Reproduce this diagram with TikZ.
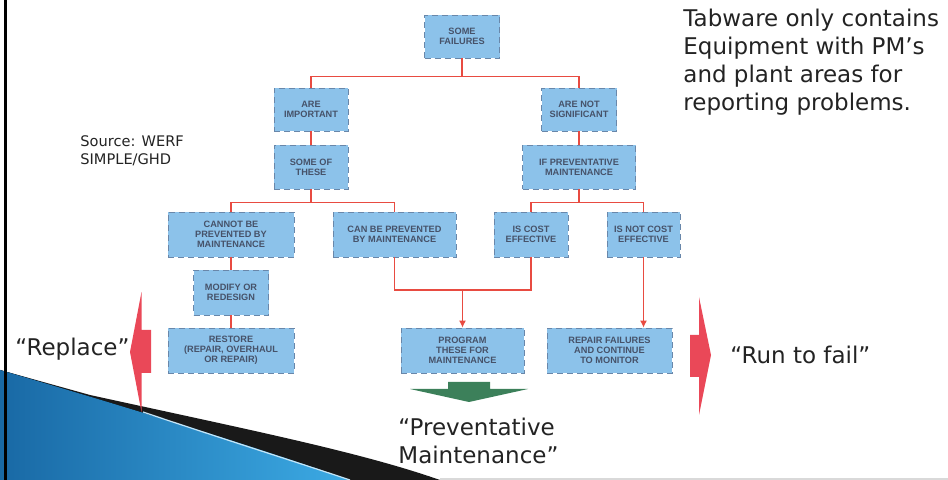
\documentclass[tikz,border=0pt]{standalone}
\usepackage{fontspec}
\setmainfont{DejaVu Sans}
\newfontfamily\boxfont{Liberation Sans}
\usetikzlibrary{arrows.meta}
\definecolor{boxfill}{RGB}{140,194,234}
\definecolor{boxline}{RGB}{105,135,170}
\definecolor{boxtext}{RGB}{70,82,105}
\definecolor{linkred}{RGB}{232,75,65}
\definecolor{arrowred}{RGB}{234,72,88}
\definecolor{arrowgreen}{RGB}{60,128,90}
\definecolor{swooshdark}{RGB}{25,105,165}
\definecolor{swooshlight}{RGB}{60,170,228}
\definecolor{darktext}{RGB}{35,35,35}
\begin{document}
\begin{tikzpicture}[x=0.5pt,y=-0.5pt,
    box/.style={draw=boxline, densely dashed, line width=0.3pt, fill=boxfill, inner sep=0pt,
      minimum height=22.5pt, align=center, text=boxtext, font=\boxfont\bfseries\fontsize{4.6}{5}\selectfont},
    link/.style={draw=linkred, line width=0.7pt},
    tip/.style={-{Latex[length=3.5pt,width=3.5pt]}},
    bigtext/.style={text=darktext, font=\fontsize{11.5}{14}\selectfont, align=left, inner sep=0pt}]
    \useasboundingbox (0,0) rectangle (948,480);

    % Slide swoosh (bottom left)
    \fill[black!90] (0,370) -- (90,395) .. controls (250,430) and (360,452) .. (440,480) -- (0,480) -- cycle;
    \fill[left color=swooshdark, right color=swooshlight] (0,370) .. controls (120,405) and (250,445) .. (350,480) -- (0,480) -- cycle;
    \draw[white!70!swooshlight, line width=0.6pt] (143,412) .. controls (220,438) and (290,460) .. (350,480);
    \draw[black, line width=1.2pt] (5.5,0) -- (5.5,480);
    \draw[gray!30, line width=0.6pt] (440,479) -- (948,479);

    % Decision tree boxes
    \node[box, minimum width=37.5pt, minimum height=21.5pt] (fail) at (462,36.5) {SOME\\FAILURES};
    \node[box, minimum width=37pt, minimum height=21.5pt] (imp) at (311,109.5) {ARE\\IMPORTANT};
    \node[box, minimum width=37.5pt, minimum height=21.5pt] (notsig) at (579,109.5) {ARE NOT\\SIGNIFICANT};
    \node[box, minimum width=37pt, minimum height=22pt] (some) at (311,167) {SOME OF\\THESE};
    \node[box, minimum width=56.5pt, minimum height=22pt] (ifpm) at (579,167) {IF PREVENTATIVE\\MAINTENANCE};
    \node[box, minimum width=63pt] (cannot) at (231,234.5) {CANNOT BE\\PREVENTED BY\\MAINTENANCE};
    \node[box, minimum width=61.5pt] (canbe) at (394.5,234.5) {CAN BE PREVENTED\\BY MAINTENANCE};
    \node[box, minimum width=37pt] (cost) at (531,234.5) {IS COST\\EFFECTIVE};
    \node[box, minimum width=36.5pt] (notcost) at (643.5,234.5) {IS NOT COST\\EFFECTIVE};
    \node[box, minimum width=37.5pt] (modify) at (231,292.5) {MODIFY OR\\REDESIGN};
    \node[box, minimum width=63pt] (restore) at (231,350.5) {RESTORE\\(REPAIR, OVERHAUL\\OR REPAIR)};
    \node[box, minimum width=61.5pt] (program) at (462.5,350.5) {PROGRAM\\THESE FOR\\MAINTENANCE};
    \node[box, minimum width=62.5pt] (repair) at (609.5,350.5) {REPAIR FAILURES\\AND CONTINUE\\TO MONITOR};

    % Red connectors
    \draw[link] (fail.south) -- ++(0,18) coordinate (j1);
    \draw[link] (imp.north) |- (j1) -| (notsig.north);
    \draw[link] (imp) -- (some);
    \draw[link] (notsig) -- (ifpm);
    \draw[link] (some.south) -- ++(0,13) coordinate (j2);
    \draw[link] (cannot.north) |- (j2) -| (canbe.north);
    \draw[link] (ifpm.south) -- ++(0,13) coordinate (j3);
    \draw[link] (cost.north) |- (j3) -| (notcost.north);
    \draw[link] (cannot) -- (modify);
    \draw[link] (modify) -- (restore);
    \coordinate (j4) at (462.5,290);
    \draw[link] (canbe.south) |- (j4) -| (cost.south);
    \draw[link, tip] (j4) -- (program.north);
    \draw[link, tip] (notcost.south) -- (notcost.south |- repair.north);

    % Big outcome arrows
    \fill[arrowred] (151,330) -- (141.5,330) -- (141.5,292) -- (130,352) -- (141.5,412) -- (141.5,373) -- (151,373) -- cycle;
    \fill[arrowred] (690,335) -- (699,335) -- (699,297) -- (711,355) -- (699,415) -- (699,377) -- (690,377) -- cycle;
    \fill[arrowgreen] (448,382) -- (490,382) -- (490,389) -- (528,389) -- (469,402) -- (410,389) -- (448,389) -- cycle;

    % Texts
    \node[bigtext, anchor=west] (tabware) at (683,62) {Tabware only contains\\Equipment with PM’s\\and plant areas for\\reporting problems.};
    \node[text=darktext, font=\fontsize{7.3}{9}\selectfont, align=left, inner sep=0pt, anchor=west] (source) at (80,151) {Source: WERF\\SIMPLE/GHD};
    \node[bigtext, anchor=west] (replace) at (15,349) {“Replace”};
    \node[bigtext, anchor=west] (runfail) at (730,355) {“Run to fail”};
    \node[bigtext, anchor=west] (pm) at (398,441) {“Preventative\\Maintenance”};
\end{tikzpicture}
\end{document}
